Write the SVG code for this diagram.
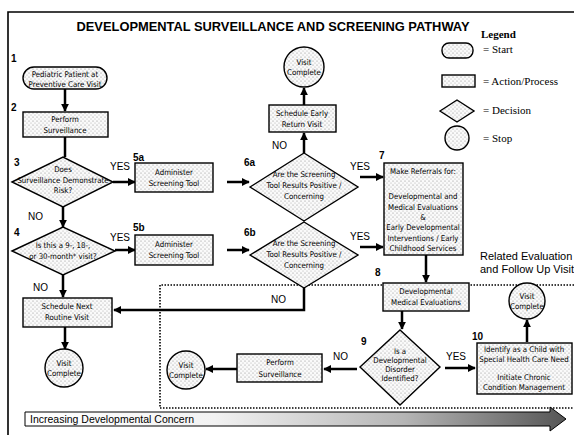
<svg xmlns="http://www.w3.org/2000/svg" width="574" height="435" viewBox="0 0 574 435">
<defs>
  <pattern id="stip" width="4" height="4" patternUnits="userSpaceOnUse">
    <rect width="4" height="4" fill="#fafafa"/>
    <circle cx="1" cy="1" r="0.6" fill="#8a8a8a"/>
    <circle cx="3" cy="3" r="0.5" fill="#a0a0a0"/>
  </pattern>
  <linearGradient id="grad" x1="0" y1="0" x2="1" y2="0">
    <stop offset="0" stop-color="#ffffff"/>
    <stop offset="0.35" stop-color="#f2f2f2"/>
    <stop offset="0.7" stop-color="#b5b5b5"/>
    <stop offset="1" stop-color="#555555"/>
  </linearGradient>
  <marker id="ah" viewBox="0 0 10 10" refX="9" refY="5" markerWidth="3.2" markerHeight="3.2" orient="auto" markerUnits="strokeWidth">
    <path d="M0,0 L10,5 L0,10 Z" fill="#000"/>
  </marker>
  <style>
    .shape { fill: url(#stip); stroke: #000; stroke-width: 1.4; }
    .t { font-family: "DejaVu Sans Condensed", "Liberation Sans", sans-serif; font-size: 7.8px; fill: #000; text-anchor: middle; }
    .num { font-family: "Liberation Sans", sans-serif; font-size: 10px; font-weight: bold; fill: #000; }
    .yn { font-family: "Liberation Sans", sans-serif; font-size: 10px; fill: #000; }
    .leg { font-family: "Liberation Serif", serif; font-size: 11px; fill: #000; }
    .conn { stroke: #000; stroke-width: 2.5; fill: none; }
    .arr { marker-end: url(#ah); }
    .dot { stroke: #000; stroke-width: 1.6; stroke-dasharray: 1.5 1.5; fill: none; }
  </style>
</defs>
<rect width="574" height="435" fill="#fff"/>
<!-- frame -->
<path d="M8,435 V12 H574" fill="none" stroke="#000" stroke-width="1.6"/>
<text x="273" y="31" font-family="Liberation Sans, sans-serif" font-size="12.5" font-weight="bold" text-anchor="middle" textLength="393" lengthAdjust="spacingAndGlyphs">DEVELOPMENTAL SURVEILLANCE AND SCREENING PATHWAY</text>

<!-- legend -->
<g id="legend">
  <text x="481" y="38" class="leg" font-size="13" font-weight="bold">Legend</text>
  <rect x="442" y="43" width="31" height="15" rx="7" class="shape"/>
  <text x="483" y="53" class="leg">= Start</text>
  <rect x="442" y="75" width="33" height="12" class="shape"/>
  <text x="483" y="85" class="leg">= Action/Process</text>
  <polygon points="440,111 457,100 474,111 457,122" class="shape"/>
  <text x="483" y="114" class="leg">= Decision</text>
  <circle cx="457" cy="138" r="12" class="shape"/>
  <text x="483" y="142" class="leg">= Stop</text>
</g>

<!-- dotted region -->
<g id="region">
  <path d="M574,285 H160 V408 H574" class="dot"/>
  <text x="480" y="260" font-family="Liberation Sans, sans-serif" font-size="11">Related Evaluation</text>
  <text x="480" y="273" font-family="Liberation Sans, sans-serif" font-size="11">and Follow Up Visit</text>
</g>

<!-- bottom concern arrow -->
<g id="concern">
  <path d="M25,412 H550 V407 L566,419 L550,431 V426 H25 Z" fill="url(#grad)" stroke="#000" stroke-width="1"/>
  <text x="30" y="423" font-family="Liberation Sans, sans-serif" font-size="10.5">Increasing Developmental Concern</text>
</g>

<!-- connectors -->
<g id="connectors">
  <path d="M65,89 V111" class="conn arr"/>
  <path d="M65,137 V157" class="conn"/>
  <path d="M113,182 H135" class="conn arr"/>
  <path d="M227,182 H249" class="conn arr"/>
  <path d="M63,207 V227" class="conn arr"/>
  <path d="M115,250 H135" class="conn arr"/>
  <path d="M227,250 H249" class="conn arr"/>
  <path d="M63,275 V297" class="conn arr"/>
  <path d="M65,327 V349" class="conn arr"/>
  <path d="M304,153 V133" class="conn arr"/>
  <path d="M304,105 V88" class="conn arr"/>
  <path d="M360,177 H383" class="conn arr"/>
  <path d="M360,247 H383" class="conn arr"/>
  <path d="M304,288 V310 H114" class="conn arr"/>
  <path d="M426,255 V282" class="conn arr"/>
  <path d="M402,311 V329" class="conn arr"/>
  <path d="M357,369 H324" class="conn arr"/>
  <path d="M237,369 H206" class="conn arr"/>
  <path d="M445,368 H475" class="conn arr"/>
  <path d="M527,342 V320" class="conn arr"/>
  <text x="110" y="170" class="yn">YES</text>
  <text x="28" y="220" class="yn">NO</text>
  <text x="110" y="241" class="yn">YES</text>
  <text x="33" y="291" class="yn">NO</text>
  <text x="272" y="149" class="yn">NO</text>
  <text x="350" y="170" class="yn">YES</text>
  <text x="350" y="240" class="yn">YES</text>
  <text x="271" y="303" class="yn">NO</text>
  <text x="333" y="360" class="yn">NO</text>
  <text x="446" y="360" class="yn">YES</text>
</g>

<!-- nodes -->
<g id="n1">
  <text x="11" y="62" class="num">1</text>
  <rect x="23" y="67" width="84" height="22" rx="11" class="shape"/>
  <text x="65" y="77" class="t">Pediatric Patient at</text>
  <text x="65" y="87" class="t">Preventive Care Visit</text>
</g>
<g id="n2">
  <text x="11" y="111" class="num">2</text>
  <rect x="23" y="112" width="85" height="25" class="shape"/>
  <text x="65" y="122" class="t">Perform</text>
  <text x="65" y="133" class="t">Surveillance</text>
</g>
<g id="n3">
  <text x="14" y="166" class="num">3</text>
  <polygon points="12,182 63,157 113,182 63,207" class="shape"/>
  <text x="63" y="172" class="t">Does</text>
  <text x="63" y="183" class="t">Surveillance Demonstrate</text>
  <text x="63" y="193" class="t">Risk?</text>
</g>
<g id="n5a">
  <text x="133" y="161" class="num">5a</text>
  <rect x="135" y="163" width="78" height="29" class="shape"/>
  <text x="174" y="175" class="t">Administer</text>
  <text x="174" y="186" class="t">Screening Tool</text>
</g>
<g id="n4">
  <text x="14" y="236" class="num">4</text>
  <polygon points="12,251 63,227 115,251 63,275" class="shape"/>
  <text x="63" y="248" class="t">Is this a 9-, 18-,</text>
  <text x="63" y="259" class="t">or 30-month* visit?</text>
</g>
<g id="n5b">
  <text x="133" y="231" class="num">5b</text>
  <rect x="135" y="235" width="78" height="30" class="shape"/>
  <text x="174" y="247" class="t">Administer</text>
  <text x="174" y="258" class="t">Screening Tool</text>
</g>
<g id="n6a">
  <text x="244" y="166" class="num">6a</text>
  <polygon points="250,187 304,153 358,187 304,221" class="shape"/>
  <text x="304" y="177" class="t">Are the Screening</text>
  <text x="304" y="188" class="t">Tool Results Positive /</text>
  <text x="304" y="199" class="t">Concerning</text>
</g>
<g id="n6b">
  <text x="244" y="236" class="num">6b</text>
  <polygon points="250,255 304,222 358,255 304,288" class="shape"/>
  <text x="304" y="246" class="t">Are the Screening</text>
  <text x="304" y="257" class="t">Tool Results Positive /</text>
  <text x="304" y="268" class="t">Concerning</text>
</g>
<g id="nEarly">
  <rect x="269" y="105" width="67" height="27" class="shape"/>
  <text x="302" y="116" class="t">Schedule Early</text>
  <text x="302" y="127" class="t">Return Visit</text>
</g>
<g id="nDoneTop">
  <circle cx="304" cy="67" r="20" class="shape"/>
  <text x="304" y="65" class="t">Visit</text>
  <text x="304" y="75" class="t">Complete</text>
</g>
<g id="n7">
  <text x="379" y="159" class="num">7</text>
  <rect x="384" y="163" width="79" height="92" class="shape"/>
  <text x="423" y="174" class="t">Make Referrals for:</text>
  <text x="423" y="199" class="t">Developmental and</text>
  <text x="423" y="210" class="t">Medical Evaluations</text>
  <text x="423" y="220" class="t">&amp;</text>
  <text x="423" y="230" class="t">Early Developmental</text>
  <text x="423" y="241" class="t">Interventions / Early</text>
  <text x="423" y="251" class="t">Childhood Services</text>
</g>
<g id="nRoutine">
  <rect x="23" y="298" width="89" height="29" class="shape"/>
  <text x="67" y="309" class="t">Schedule Next</text>
  <text x="67" y="320" class="t">Routine Visit</text>
</g>
<g id="nDoneLeft">
  <circle cx="64" cy="368" r="19" class="shape"/>
  <text x="64" y="366" class="t">Visit</text>
  <text x="64" y="376" class="t">Complete</text>
</g>
<g id="n8">
  <text x="375" y="276" class="num">8</text>
  <rect x="383" y="283" width="86" height="28" class="shape"/>
  <text x="426" y="294" class="t">Developmental</text>
  <text x="426" y="305" class="t">Medical Evaluations</text>
</g>
<g id="n9">
  <text x="361" y="345" class="num">9</text>
  <polygon points="360,367 400,330 440,367 400,405" class="shape"/>
  <text x="400" y="354" class="t">Is a</text>
  <text x="400" y="363" class="t">Developmental</text>
  <text x="400" y="372" class="t">Disorder</text>
  <text x="400" y="381" class="t">Identified?</text>
</g>
<g id="nPerform2">
  <rect x="237" y="354" width="85" height="28" class="shape"/>
  <text x="280" y="365" class="t">Perform</text>
  <text x="280" y="377" class="t">Surveillance</text>
</g>
<g id="nDoneMid">
  <circle cx="186" cy="370" r="19" class="shape"/>
  <text x="186" y="368" class="t">Visit</text>
  <text x="186" y="378" class="t">Complete</text>
</g>
<g id="n10">
  <text x="472" y="340" class="num">10</text>
  <rect x="477" y="343" width="95" height="51" class="shape"/>
  <text x="524" y="352" class="t">Identify as a Child with</text>
  <text x="524" y="362" class="t">Special Health Care Need</text>
  <text x="524" y="380" class="t">Initiate Chronic</text>
  <text x="524" y="390" class="t">Condition Management</text>
</g>
<g id="nDoneRight">
  <circle cx="527" cy="301" r="18" class="shape"/>
  <text x="527" y="299" class="t">Visit</text>
  <text x="527" y="309" class="t">Complete</text>
</g>
</svg>
